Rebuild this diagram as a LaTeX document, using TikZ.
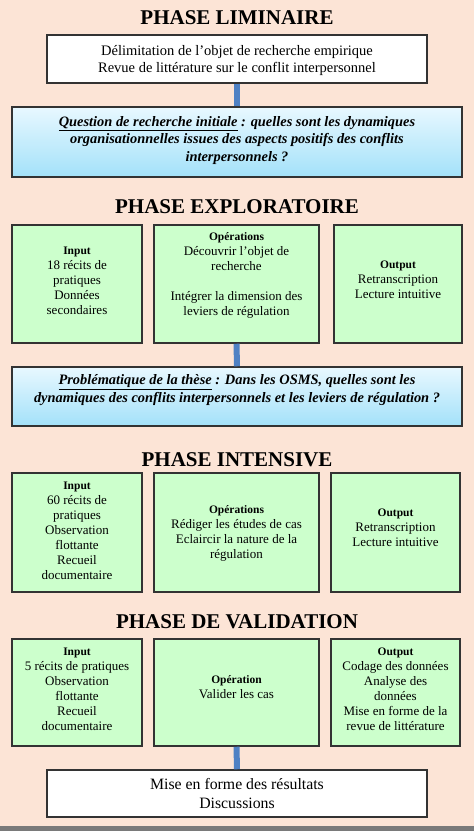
\documentclass[tikz,border=0pt]{standalone}
\usepackage{fontspec}
\setmainfont{Liberation Serif}
\definecolor{peach}{HTML}{FCE4D6}
\definecolor{grayc}{HTML}{7A7A7A}
\definecolor{greenc}{HTML}{CCFFCC}
\definecolor{bluet}{HTML}{E8F8FF}
\definecolor{blueb}{HTML}{A3E1F9}
\definecolor{connc}{HTML}{4F81C4}
\definecolor{bordc}{HTML}{333333}
\begin{document}
\begin{tikzpicture}[x=1pt,y=-1pt,
  box/.style={draw=bordc, line width=1.5pt, inner sep=0pt},
  gbox/.style={box, fill=greenc},
  wbox/.style={box, fill=white},
  bbox/.style={box, top color=bluet, bottom color=blueb},
  gtext/.style={align=center, inner sep=0pt, font=\fontsize{13}{15}\selectfont},
  btext/.style={align=center, inner sep=0pt, font=\fontsize{14.4}{17.5}\selectfont\bfseries\itshape},
  wtext/.style={align=center, inner sep=0pt},
  titlestyle/.style={inner sep=0pt, font=\fontsize{21}{24}\selectfont\bfseries},
  conn/.style={draw=connc, line width=6pt}]
\newcommand{\hdr}[1]{{\fontsize{11.5}{15}\selectfont\bfseries #1}}
% background
\fill[peach] (0,0) rectangle (474,826);
\fill[grayc] (0,826) rectangle (474,831);
\useasboundingbox (0,0) rectangle (474,831);

% Phase liminaire
\node[titlestyle] (t1) at (237,17.5) {PHASE LIMINAIRE};
\node[wbox, minimum width=380pt, minimum height=48pt] (b1) at (237,59) {};
\node[wtext, font=\fontsize{14.5}{17}\selectfont] (b1t) at (237,60)
  {Délimitation de l’objet de recherche empirique\\Revue de littérature sur le conflit interpersonnel};
\node[bbox, minimum width=450pt, minimum height=70pt] (q1) at (237,142) {};
\node[btext] (q1t) at (237,140.5)
  {\underline{Question de recherche initiale} : quelles sont les dynamiques\\organisationnelles issues des aspects positifs des conflits\\interpersonnels ?};
\draw[conn] (b1.south) -- (q1.north);

% Phase exploratoire
\node[titlestyle] (t2) at (237,207) {PHASE EXPLORATOIRE};
\node[gbox, minimum width=130pt, minimum height=118pt] (e1a) at (77,284) {};
\node[gbox, minimum width=165pt, minimum height=118pt] (e1b) at (236.5,284) {};
\node[gbox, minimum width=128pt, minimum height=118pt] (e1c) at (398,284) {};
\node[gtext] (e1at) at (77,281) {\hdr{Input}\\18 récits de\\pratiques\\Données\\secondaires};
\node[gtext] (e1bt) at (236.5,275) {\hdr{Opérations}\\Découvrir l’objet de\\recherche\\[15pt]Intégrer la dimension des\\leviers de régulation};
\node[gtext] (e1ct) at (398,280) {\hdr{Output}\\Retranscription\\Lecture intuitive};
\node[bbox, minimum width=450pt, minimum height=59pt] (q2) at (237,396.5) {};
\node[btext] (q2t) at (237,390)
  {\underline{Problématique de la thèse} : Dans les OSMS, quelles sont les\\dynamiques des conflits interpersonnels et les leviers de régulation ?};
\draw[conn] (e1b.south) -- (q2.north);

% Phase intensive
\node[titlestyle] (t3) at (237,459.5) {PHASE INTENSIVE};
\node[gbox, minimum width=130pt, minimum height=119pt] (e2a) at (77,532.5) {};
\node[gbox, minimum width=165pt, minimum height=119pt] (e2b) at (236.5,532.5) {};
\node[gbox, minimum width=129pt, minimum height=119pt] (e2c) at (395.5,532.5) {};
\node[gtext] (e2at) at (77,531) {\hdr{Input}\\60 récits de\\pratiques\\Observation\\flottante\\Recueil\\documentaire};
\node[gtext] (e2bt) at (236.5,533) {\hdr{Opérations}\\Rédiger les études de cas\\Eclaircir la nature de la\\régulation};
\node[gtext] (e2ct) at (395.5,528) {\hdr{Output}\\Retranscription\\Lecture intuitive};

% Phase de validation
\node[titlestyle] (t4) at (237,622) {PHASE DE VALIDATION};
\node[gbox, minimum width=130pt, minimum height=107pt] (e3a) at (77,692.5) {};
\node[gbox, minimum width=165pt, minimum height=107pt] (e3b) at (236.5,692.5) {};
\node[gbox, minimum width=129pt, minimum height=107pt] (e3c) at (395.5,692.5) {};
\node[gtext] (e3at) at (77,689) {\hdr{Input}\\5 récits de pratiques\\Observation\\flottante\\Recueil\\documentaire};
\node[gtext] (e3bt) at (236.5,687) {\hdr{Opération}\\Valider les cas};
\node[gtext] (e3ct) at (395.5,689) {\hdr{Output}\\Codage des données\\Analyse des\\données\\Mise en forme de la\\revue de littérature};
\node[wbox, minimum width=380pt, minimum height=47pt] (b2) at (237,793.5) {};
\node[wtext, font=\fontsize{15.8}{19}\selectfont] (b2t) at (237,793.5)
  {Mise en forme des résultats\\Discussions};
\draw[conn] (e3b.south) -- (b2.north);
\end{tikzpicture}
\end{document}
